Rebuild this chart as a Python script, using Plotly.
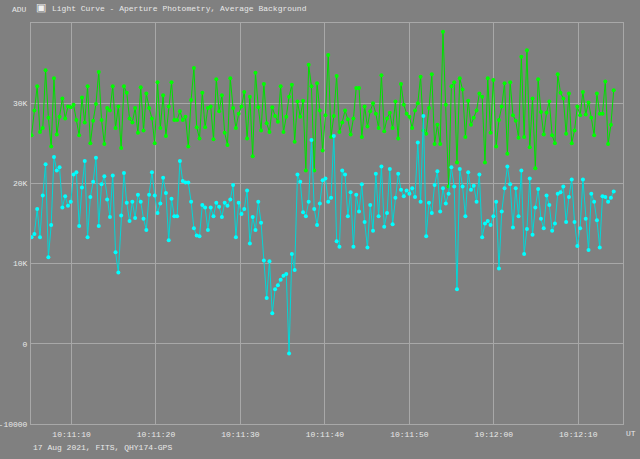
import numpy as np
import pandas as pd
import plotly.graph_objects as go

# ADU values in thousands
green_k = [26.0,29.1,32.1,26.4,26.9,34.1,28.2,24.6,33.1,26.1,28.3,30.6,28.1,29.6,29.5,29.8,27.9,26.0,30.7,27.6,32.1,25.0,27.8,29.9,33.9,27.9,24.9,29.4,29.1,32.1,26.9,29.6,24.4,32.1,31.3,28.1,27.6,29.4,26.3,32.0,26.6,31.2,29.4,28.1,25.0,32.6,26.9,31.0,25.9,29.6,32.6,27.9,
27.9,29.0,27.9,28.3,24.6,30.4,34.4,27.0,25.6,31.3,27.0,29.4,29.6,25.5,33.0,29.0,31.0,26.3,24.8,33.1,29.4,26.9,28.7,29.6,31.4,25.6,30.8,23.4,33.8,29.5,26.6,32.4,27.5,26.4,29.5,28.4,27.7,32.1,26.4,28.3,30.8,32.3,25.2,30.2,28.3,30.3,21.6,34.8,32.1,21.6,32.5,
29.1,24.1,28.5,36.0,25.8,28.4,33.4,26.4,27.6,29.1,28.0,26.1,28.1,31.9,31.9,25.8,29.6,27.1,29.0,30.0,28.7,26.9,33.5,26.5,28.1,28.8,26.9,30.2,25.6,32.4,29.8,28.7,28.3,26.9,29.1,30.0,33.3,26.6,26.2,29.4,33.6,24.9,27.3,24.9,38.9,29.8,19.6,32.1,32.6,22.6,33.1,31.7,25.8,
30.3,27.3,28.2,29.1,31.2,30.8,22.6,33.1,26.3,32.9,24.6,27.9,29.6,32.5,23.7,32.6,28.5,27.8,25.7,35.8,25.8,36.6,24.5,30.6,21.9,33.0,28.9,26.1,28.8,30.2,26.0,25.0,33.6,31.3,30.6,26.2,31.2,25.0,26.6,29.6,28.5,31.4,28.6,30.1,28.2,26.0,31.2,28.7,28.7,32.7,24.9,27.3,31.6]

cyan_k = [13.3,13.7,16.8,13.3,18.5,22.4,10.8,14.8,23.3,21.6,22.0,17.0,18.4,17.2,17.7,21.1,21.4,14.7,19.5,22.8,13.3,18.3,20.2,23.2,14.7,19.9,20.9,18.0,15.8,21.0,11.4,8.9,16.0,21.3,17.6,15.3,17.7,15.7,18.6,17.7,15.6,14.2,18.6,21.4,18.5,16.3,17.5,20.7,18.8,12.9,18.1,15.9,15.9,
22.8,20.3,20.1,20.1,17.7,14.4,13.5,13.4,17.3,17.0,14.2,17.0,15.9,17.6,17.1,15.8,17.6,17.2,18.0,19.8,13.3,17.6,16.2,16.8,19.1,12.5,15.8,14.2,17.7,15.1,10.4,5.7,10.3,3.8,6.8,7.3,8.0,8.5,8.7,-1.2,11.2,9.2,21.1,20.2,16.4,15.9,17.7,25.4,16.8,14.8,17.5,
20.4,20.6,17.7,18.2,25.9,12.8,12.1,21.6,21.1,15.9,18.9,12.1,18.6,16.5,19.9,15.2,12.0,17.3,14.1,21.2,15.9,22.1,14.6,16.3,21.8,14.9,18.2,21.2,19.2,18.4,19.1,18.7,19.4,18.3,25.1,17.7,28.4,13.4,17.6,16.3,19.8,21.5,16.5,19.4,17.5,18.7,22.0,19.6,6.8,21.8,19.6,15.9,
21.4,19.2,19.7,17.7,21.1,13.3,15.0,15.3,14.8,15.9,17.7,9.4,16.5,19.4,22.1,19.9,14.5,19.4,15.9,21.6,11.2,14.3,20.6,13.6,17.0,19.3,15.6,14.4,18.5,17.3,14.1,15.0,18.7,18.9,19.6,15.2,18.3,20.5,15.2,12.2,14.4,20.5,15.6,11.7,18.7,17.7,15.4,12.0,18.4,18.3,17.7,18.2,19.0]

start_time = "2021-08-17 10:11:05.27"
end_time = "2021-08-17 10:12:14.2"
y_tickvals = [-10000, 0, 10000, 20000, 30000]
y_ticktext = ["-10000", "0", "10K", "20K", "30K"]
x_tickvals = ["10:11:10", "10:11:20", "10:11:30", "10:11:40", "10:11:50", "10:12:00", "10:12:10"]

n = len(green_k)
t0 = pd.Timestamp(start_time); t1 = pd.Timestamp(end_time)
times = [t0 + (t1 - t0) * i / (n - 1) for i in range(n)]
green = [v * 1000 for v in green_k]
cyan = [v * 1000 for v in cyan_k[:n]]

font = "Liberation Mono"
tc = "#e8e8e8"
L, R, T, B = 31, 623, 23, 424
def px(x): return (x - L) / (R - L)
def py(y): return (B - y) / (B - T)

fig = go.Figure()
fig.add_trace(go.Scatter(x=times, y=green, mode="lines+markers",
                         line=dict(color="#00e000", width=1), marker=dict(color="#00ff00", size=4)))
fig.add_trace(go.Scatter(x=times[:len(cyan)], y=cyan, mode="lines+markers",
                         line=dict(color="#00d8d8", width=1), marker=dict(color="#00ffff", size=4)))
fig.update_layout(
    width=640, height=459, showlegend=False,
    paper_bgcolor="#808080", plot_bgcolor="#808080",
    margin=dict(l=L, r=640 - R, t=T, b=459 - B, autoexpand=False),
    font=dict(family=font, size=8, color=tc),
)
fig.update_xaxes(type="date", range=["2021-08-17 10:11:05.2", "2021-08-17 10:12:15.3"],
                 tickvals=["2021-08-17 " + s for s in x_tickvals], ticktext=x_tickvals,
                 showgrid=True, gridcolor="#a8a8a8", gridwidth=1, zeroline=False, automargin=False,
                 showline=True, linecolor="#a8a8a8", mirror=True, ticks="", ticklabelstandoff=2,
                 tickfont=dict(size=8))
fig.update_yaxes(range=[-10000, 40000], tickvals=y_tickvals, ticktext=y_ticktext,
                 showgrid=True, gridcolor="#a8a8a8", zeroline=False, automargin=False,
                 showline=True, linecolor="#a8a8a8", mirror=True, ticks="", ticklabelstandoff=1,
                 tickfont=dict(size=8))
ann = dict(xref="paper", yref="paper", showarrow=False, yanchor="middle", font=dict(family=font, size=8, color=tc))
fig.add_annotation(x=px(29), y=py(10), xanchor="right", text="ADU", **ann)
fig.add_annotation(x=px(34), y=py(8), xanchor="left", text="▣",
                   xref="paper", yref="paper", showarrow=False, yanchor="middle",
                   font=dict(size=11, color="#f0f0f0"))
fig.add_annotation(x=px(50), y=py(8), xanchor="left",
                   text="Light Curve - Aperture Photometry, Average Background", **ann)
fig.add_annotation(x=px(624), y=py(433), xanchor="left", text="UT", **ann)
fig.add_annotation(x=px(31), y=py(447), xanchor="left", text="17 Aug 2021, FITS, QHY174-GPS", **ann)
fig.write_html("out.html", config={"displayModeBar": False},
               post_script="document.body.style.margin='0';document.body.style.background='#808080';")
